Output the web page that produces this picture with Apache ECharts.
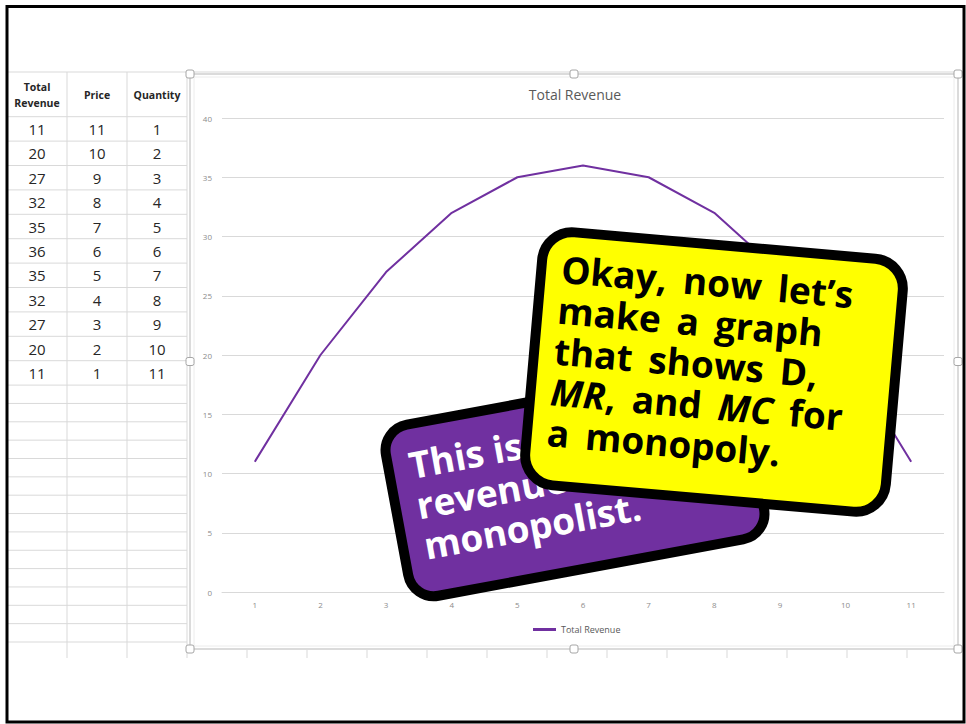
<!DOCTYPE html>
<html>
<head>
<meta charset="utf-8">
<script src="https://cdn.jsdelivr.net/npm/echarts@6/dist/echarts.min.js"></script>
<style>
  html, body { margin: 0; padding: 0; background: #fff; }
  #chart { width: 966px; height: 724px; }
</style>
</head>
<body>
<div id="chart"></div>
<script>
// data, as typed in the spreadsheet
const quantity = ['1', '2', '3', '4', '5', '6', '7', '8', '9', '10', '11'];
const price = [11, 10, 9, 8, 7, 6, 5, 4, 3, 2, 1];
const totalRevenue = [11, 20, 27, 32, 35, 36, 35, 32, 27, 20, 11];
const tableHeaders = ['Total\nRevenue', 'Price', 'Quantity'];

const purpleNote = 'This is the total\nrevenue for a\nmonopolist.';
// {i|..} = italic, {s| } = the slightly wider word gap of the slide font
const yellowNote = 'Okay,{s| }now{s| }let\u2019s\nmake{s| }a{s| }graph\nthat{s| }shows{s| }D,\n{i|MR},{s| }and{s| }{i|MC}{s| }for\na{s| }monopoly.';

const FONT = '"Open Sans", "Liberation Sans", sans-serif';
const GRID = '#d9d9d9';
const deg = Math.PI / 180;

const chart = echarts.init(document.getElementById('chart'), null, { renderer: 'svg' });

// spreadsheet behind the chart
const sheet = [];
const colLines = [67, 127, 187];
const colCenters = [37, 97, 157];
const rowTop = 116.7, rowH = 24.4;

sheet.push({ type: 'line', shape: { x1: 8, y1: 72, x2: 963, y2: 72 }, style: { stroke: GRID, lineWidth: 1 } });
colLines.forEach(x => {
  sheet.push({ type: 'line', shape: { x1: x, y1: 72, x2: x, y2: 658 }, style: { stroke: GRID, lineWidth: 1 } });
});
// data rows then the empty rows below them
for (let k = 0; k <= totalRevenue.length; k++) {
  const y = rowTop + rowH * k;
  sheet.push({ type: 'line', shape: { x1: 8, y1: y, x2: 187, y2: y }, style: { stroke: GRID, lineWidth: 1 } });
}
const emptyStart = rowTop + rowH * totalRevenue.length;
for (let j = 1; j <= 14; j++) {
  const y = emptyStart + 18.35 * j;
  sheet.push({ type: 'line', shape: { x1: 8, y1: y, x2: 187, y2: y }, style: { stroke: GRID, lineWidth: 1 } });
}
// column stubs peeking out under the chart box
for (let x = 247; x < 958; x += 60) {
  sheet.push({ type: 'line', shape: { x1: x, y1: 650, x2: x, y2: 658 }, style: { stroke: GRID, lineWidth: 1 } });
}

tableHeaders.forEach((h, c) => {
  sheet.push({
    type: 'text', x: colCenters[c], y: 95,
    style: { text: h, fill: '#262626', font: 'bold 10.5px ' + FONT, align: 'center', verticalAlign: 'middle', lineHeight: 16 }
  });
});
totalRevenue.forEach((tr, i) => {
  const y = 129 + rowH * i;
  [tr, price[i], quantity[i]].forEach((v, c) => {
    sheet.push({
      type: 'text', x: colCenters[c], y: y,
      style: { text: String(v), fill: '#262626', font: '15px ' + FONT, align: 'center', verticalAlign: 'middle' }
    });
  });
});

// chart object frame + selection handles
const box = { x: 190, y: 74, w: 768, h: 575 };
sheet.push({ type: 'rect', shape: { x: box.x, y: box.y, width: box.w, height: box.h }, style: { fill: 'none', stroke: '#cfcfcf', lineWidth: 1.5 } });
sheet.push({ type: 'rect', shape: { x: box.x + 4, y: box.y + 3, width: box.w - 8, height: box.h - 6 }, style: { fill: 'none', stroke: '#ececec', lineWidth: 1 } });
[[0, 0], [0.5, 0], [1, 0], [0, 0.5], [1, 0.5], [0, 1], [0.5, 1], [1, 1]].forEach(([fx, fy]) => {
  sheet.push({
    type: 'rect', z: 5,
    shape: { x: box.x + fx * box.w - 4, y: box.y + fy * box.h - 4, width: 8, height: 8, r: 2 },
    style: { fill: '#fff', stroke: '#a6a6a6', lineWidth: 1 }
  });
});

// slide outline
sheet.push({ type: 'rect', z: 50, shape: { x: 7, y: 6.5, width: 957, height: 715.5 }, style: { fill: 'none', stroke: '#000', lineWidth: 3 } });

// callouts
function note(cx, cy, rot, w, h, r, fill, text, color, tx, ty, z) {
  return {
    type: 'group', x: cx, y: cy, rotation: rot * deg,
    children: [
      { type: 'rect', z: z, shape: { x: -w / 2, y: -h / 2, width: w, height: h, r: r }, style: { fill: fill, stroke: '#000', lineWidth: 10 } },
      {
        type: 'text', z: z + 1, x: tx, y: ty,
        style: {
          text: text, fill: color, font: 'bold 37px ' + FONT, lineHeight: 41,
          align: 'left', verticalAlign: 'middle',
          rich: {
            i: { fontStyle: 'italic', fontWeight: 'bold', fontSize: 37, fontFamily: FONT, lineHeight: 41, fill: color },
            s: { fontWeight: 'bold', fontSize: 62, fontFamily: FONT, lineHeight: 41, fill: color }
          }
        }
      }
    ]
  };
}
sheet.push(note(575, 482, 10.5, 362, 174, 26, '#7030A0', purpleNote, '#fff', -160, -6, 100));
sheet.push(note(714, 372, -5, 362, 254, 30, '#FFFF00', yellowNote, '#000', -161, -8, 110));

const option = {
  backgroundColor: '#fff',
  animation: false,
  title: {
    text: 'Total Revenue',
    left: 570, top: 82,
    textAlign: 'center',
    textStyle: { fontSize: 14, fontWeight: 'normal', color: '#595959', fontFamily: FONT }
  },
  legend: {
    data: ['Total Revenue'],
    left: 528, top: 620,
    icon: 'rect',
    itemWidth: 23, itemHeight: 3,
    textStyle: { fontSize: 9, color: '#595959', fontFamily: FONT }
  },
  grid: { left: 222, right: 22, top: 118, bottom: 132 },
  xAxis: {
    type: 'category',
    data: quantity,
    axisLine: { lineStyle: { color: GRID } },
    axisTick: { show: false },
    axisLabel: { fontSize: 8, color: '#8c8c8c', margin: 8, fontFamily: FONT }
  },
  yAxis: {
    type: 'value',
    min: 0, max: 40, interval: 5,
    axisLine: { show: false },
    axisTick: { show: false },
    axisLabel: { fontSize: 8, color: '#8c8c8c', margin: 10, fontFamily: FONT },
    splitLine: { lineStyle: { color: GRID, width: 1 } }
  },
  series: [{
    name: 'Total Revenue',
    type: 'line',
    data: totalRevenue,
    symbol: 'none',
    lineStyle: { color: '#7030A0', width: 2 },
    itemStyle: { color: '#7030A0' }
  }],
  graphic: { elements: sheet }
};

chart.setOption(option);
</script>
</body>
</html>
